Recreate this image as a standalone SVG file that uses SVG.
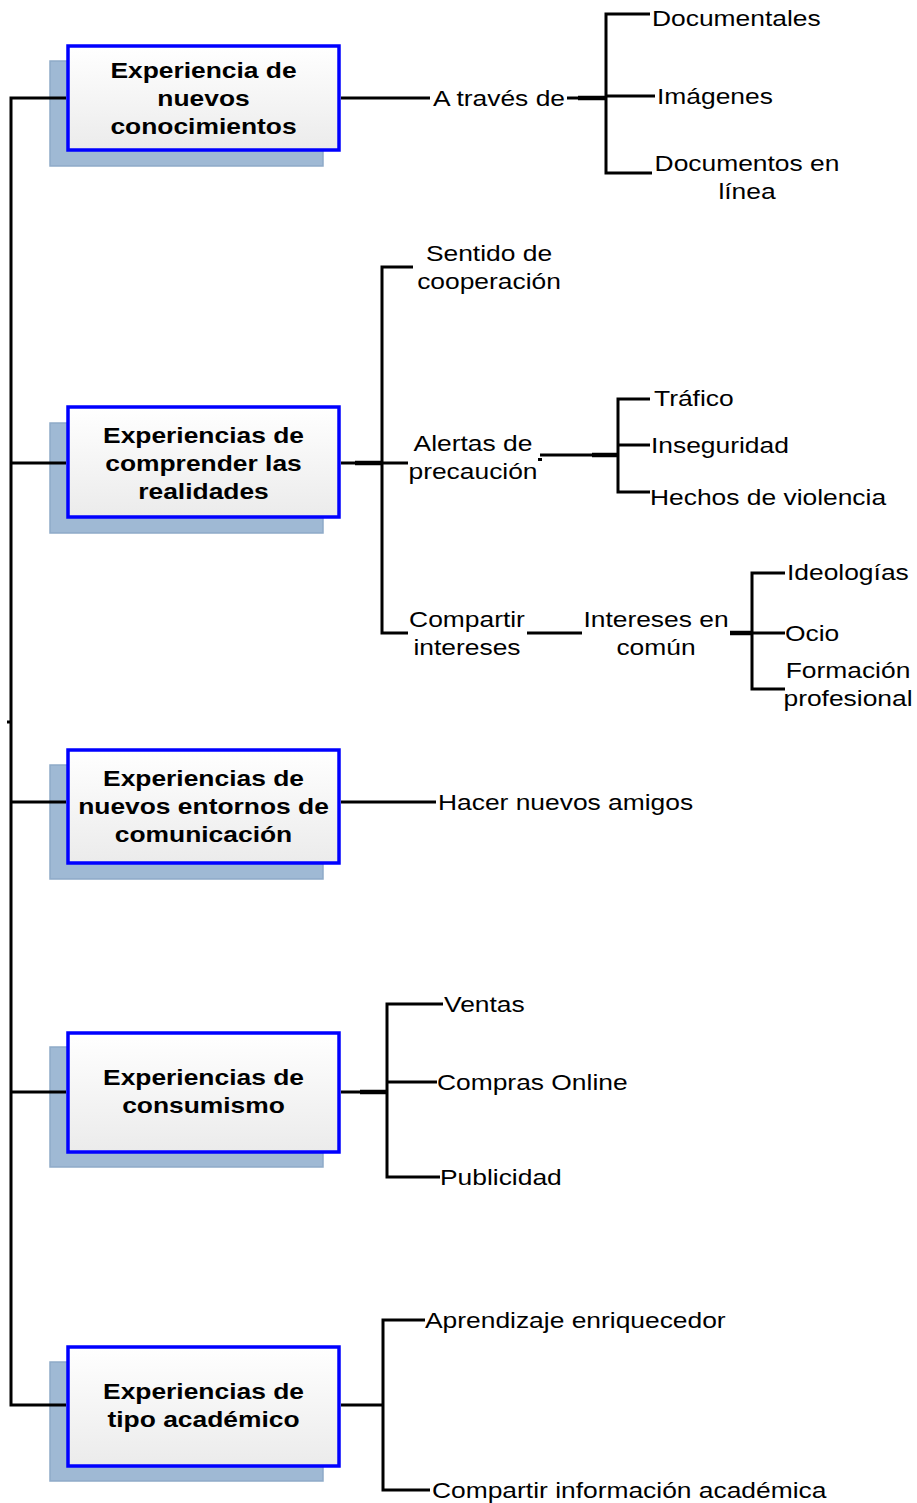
<svg xmlns="http://www.w3.org/2000/svg" width="917" height="1503" viewBox="0 0 917 1503">
<defs>
<linearGradient id="boxg" x1="0" y1="0" x2="0" y2="1">
<stop offset="0" stop-color="#ffffff"/>
<stop offset="1" stop-color="#ebebeb"/>
</linearGradient>
<style>
.sh{fill:#9fb9d4;stroke:#8eaac8;stroke-width:1.5}
.bx{fill:url(#boxg);stroke:#0000ff;stroke-width:3.5}
.bt{font-family:"Liberation Sans",Arial,sans-serif;font-weight:bold;font-size:22px;fill:#000;text-anchor:middle}
.t{font-family:"Liberation Sans",Arial,sans-serif;font-size:22px;fill:#000}
.c{text-anchor:middle}
.ln{stroke:#000;stroke-width:3;fill:none;stroke-linecap:butt}
.lt{stroke:#000;stroke-width:4.5;fill:none}
</style>
</defs>
<rect width="917" height="1503" fill="#fff"/>

<g id="node-conocimientos">
<rect class="sh" x="50" y="61" width="273" height="105"/>
<rect class="bx" x="68" y="46" width="271" height="104"/>
<text class="bt" transform="translate(203.5,78) scale(1.2,1)"><tspan x="0" y="0">Experiencia de</tspan><tspan x="0" y="28">nuevos</tspan><tspan x="0" y="56">conocimientos</tspan></text>
</g>
<g id="node-realidades">
<rect class="sh" x="50" y="423" width="273" height="110"/>
<rect class="bx" x="68" y="407" width="271" height="110"/>
<text class="bt" transform="translate(203.5,443) scale(1.2,1)"><tspan x="0" y="0">Experiencias de</tspan><tspan x="0" y="28">comprender las</tspan><tspan x="0" y="56">realidades</tspan></text>
</g>
<g id="node-entornos">
<rect class="sh" x="50" y="765" width="273" height="114"/>
<rect class="bx" x="68" y="750" width="271" height="113"/>
<text class="bt" transform="translate(203.5,786) scale(1.2,1)"><tspan x="0" y="0">Experiencias de</tspan><tspan x="0" y="28">nuevos entornos de</tspan><tspan x="0" y="56">comunicación</tspan></text>
</g>
<g id="node-consumismo">
<rect class="sh" x="50" y="1047" width="273" height="120"/>
<rect class="bx" x="68" y="1033" width="271" height="119"/>
<text class="bt" transform="translate(203.5,1085) scale(1.2,1)"><tspan x="0" y="0">Experiencias de</tspan><tspan x="0" y="28">consumismo</tspan></text>
</g>
<g id="node-academico">
<rect class="sh" x="50" y="1362" width="273" height="119"/>
<rect class="bx" x="68" y="1347" width="271" height="119"/>
<text class="bt" transform="translate(203.5,1399) scale(1.2,1)"><tspan x="0" y="0">Experiencias de</tspan><tspan x="0" y="28">tipo académico</tspan></text>
</g>

<g id="connectors">
<!-- main spine -->
<polyline class="ln" points="66,98 11,98 11,1405 66,1405"/>
<line class="ln" x1="11" y1="463" x2="66" y2="463"/>
<line class="ln" x1="11" y1="802" x2="66" y2="802"/>
<line class="ln" x1="11" y1="1092" x2="66" y2="1092"/>
<line class="ln" x1="7" y1="722" x2="11" y2="722" stroke-width="2"/>
<!-- box 1 -->
<line class="ln" x1="341" y1="98" x2="430" y2="98"/>
<line class="ln" x1="567" y1="98" x2="606" y2="98"/>
<line class="lt" x1="578" y1="98" x2="606" y2="98"/>
<polyline class="ln" points="650,14 606,14 606,173 652,173"/>
<line class="ln" x1="606" y1="96" x2="655" y2="96"/>
<!-- box 2 -->
<line class="ln" x1="341" y1="463" x2="408" y2="463"/>
<line class="lt" x1="355" y1="463" x2="382" y2="463"/>
<polyline class="ln" points="413,267 382,267 382,633 408,633"/>
<line class="ln" x1="540" y1="455" x2="618" y2="455"/>
<line class="lt" x1="592" y1="455" x2="618" y2="455"/>
<rect x="538" y="458" width="4" height="3" fill="#000"/>
<polyline class="ln" points="650,399 618,399 618,492 650,492"/>
<line class="ln" x1="618" y1="445" x2="650" y2="445"/>
<line class="ln" x1="527" y1="633" x2="582" y2="633"/>
<line class="ln" x1="730" y1="633" x2="785" y2="633"/>
<line class="lt" x1="730" y1="633" x2="752" y2="633"/>
<polyline class="ln" points="785,573 752,573 752,689 785,689"/>
<!-- box 3 -->
<line class="ln" x1="341" y1="802" x2="436" y2="802"/>
<!-- box 4 -->
<line class="ln" x1="341" y1="1092" x2="387" y2="1092"/>
<line class="lt" x1="360" y1="1092" x2="387" y2="1092"/>
<polyline class="ln" points="443,1004 387,1004 387,1177 440,1177"/>
<line class="ln" x1="387" y1="1082" x2="437" y2="1082"/>
<!-- box 5 -->
<line class="ln" x1="341" y1="1405" x2="383" y2="1405"/>
<polyline class="ln" points="425,1320 383,1320 383,1490 430,1490"/>
</g>

<g id="labels">
<text class="t" transform="translate(433,106) scale(1.2,1)">A través de</text>
<text class="t" transform="translate(652,26) scale(1.2,1)">Documentales</text>
<text class="t" transform="translate(657,104) scale(1.2,1)">Imágenes</text>
<text class="t c" transform="translate(747,171) scale(1.2,1)"><tspan x="0" y="0">Documentos en</tspan><tspan x="0" y="28">línea</tspan></text>
<text class="t c" transform="translate(489,261) scale(1.2,1)"><tspan x="0" y="0">Sentido de</tspan><tspan x="0" y="28">cooperación</tspan></text>
<text class="t c" transform="translate(473,451) scale(1.2,1)"><tspan x="0" y="0">Alertas de</tspan><tspan x="0" y="28">precaución</tspan></text>
<text class="t" transform="translate(654,406) scale(1.2,1)">Tráfico</text>
<text class="t" transform="translate(651,453) scale(1.2,1)">Inseguridad</text>
<text class="t" transform="translate(650,505) scale(1.2,1)">Hechos de violencia</text>
<text class="t c" transform="translate(467,627) scale(1.2,1)"><tspan x="0" y="0">Compartir</tspan><tspan x="0" y="28">intereses</tspan></text>
<text class="t c" transform="translate(656,627) scale(1.2,1)"><tspan x="0" y="0">Intereses en</tspan><tspan x="0" y="28">común</tspan></text>
<text class="t" transform="translate(787,580) scale(1.2,1)">Ideologías</text>
<text class="t" transform="translate(785,641) scale(1.2,1)">Ocio</text>
<text class="t c" transform="translate(848,678) scale(1.2,1)"><tspan x="0" y="0">Formación</tspan><tspan x="0" y="28">profesional</tspan></text>
<text class="t" transform="translate(438,810) scale(1.2,1)">Hacer nuevos amigos</text>
<text class="t" transform="translate(444,1012) scale(1.2,1)">Ventas</text>
<text class="t" transform="translate(437,1090) scale(1.2,1)">Compras Online</text>
<text class="t" transform="translate(440,1185) scale(1.2,1)">Publicidad</text>
<text class="t" transform="translate(425,1328) scale(1.2,1)">Aprendizaje enriquecedor</text>
<text class="t" transform="translate(432,1498) scale(1.2,1)">Compartir información académica</text>
</g>
</svg>
